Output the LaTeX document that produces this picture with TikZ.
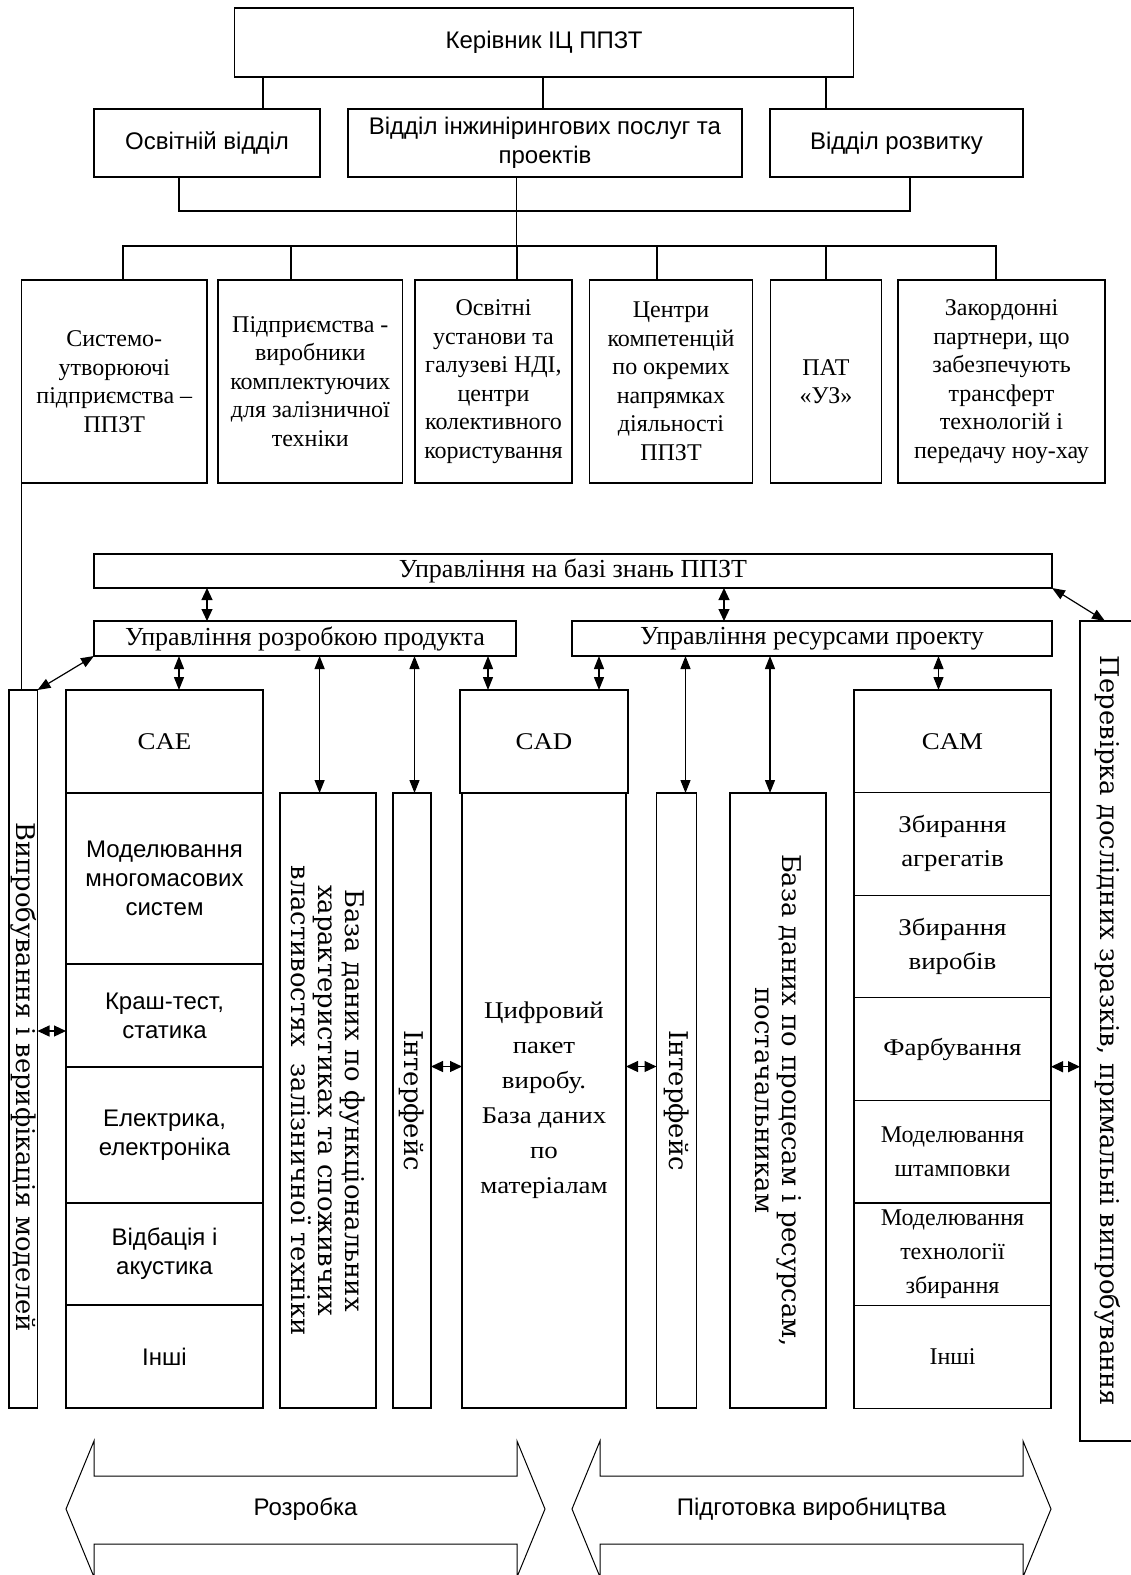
\documentclass[tikz,border=0pt]{standalone}
\usepackage{fontspec}
\setmainfont{Liberation Serif}
\newfontfamily\arialf{Liberation Sans}
\newfontfamily\cambf[FakeStretch=1.12]{Liberation Serif}
\newfontfamily\widef{DejaVu Serif}
\usepackage{tikz}
\usetikzlibrary{arrows.meta}
\usetikzlibrary{calc}
\usetikzlibrary{positioning}
\tikzstyle{block} = [draw, line width=1.2pt,
	inner sep=0pt, outer sep=0pt,
	align=center]
\tikzstyle{sans} = [font=\arialf\fontsize{24}{29}\selectfont]
\tikzstyle{tnr} = [font=\fontsize{24}{28.5}\selectfont]
\tikzstyle{tnrw} = [font=\fontsize{24}{34}\selectfont]
\tikzstyle{bar} = [font=\fontsize{26}{30}\selectfont]
\tikzstyle{camb} = [font=\cambf\fontsize{24}{34}\selectfont]
\tikzstyle{cadtext} = [font=\cambf\fontsize{24}{35}\selectfont]
\tikzstyle{vtext} = [rotate=-90, align=center,
	font=\widef\fontsize{25.8}{27}\selectfont]
\tikzstyle{link} = [line width=1.2pt]
\tikzstyle{arrow} = [{Triangle[length=13pt,width=10pt]}-{Triangle[length=13pt,width=10pt]}, line width=1.2pt]
\tikzstyle{sarrow} = [{Triangle[length=12pt,width=11pt]}-{Triangle[length=12pt,width=11pt]}, line width=1.2pt]
\newcommand{\drawbig}[4]{\draw [line width=1pt]
	(#2,1509) -- ({#2+28},1441) -- ({#2+28},1476) -- ({#3-28},1476)
	-- ({#3-28},1441) -- (#3,1509) -- ({#3-28},1577) -- ({#3-28},1544)
	-- ({#2+28},1544) -- ({#2+28},1577) -- cycle;
	\node [sans] (#1) at ({(#2+#3)/2},1509) {#4}}

\begin{document}
\begin{tikzpicture}[x=1pt, y=-1pt]
	\useasboundingbox (0,0) rectangle (1131,1575);
	
	\node (head) [block, sans, minimum width=619pt, minimum height=69pt] at (544,42.5) {Керівник ІЦ ППЗТ};
	\node (osv) [block, sans, minimum width=226pt, minimum height=68pt] at (207,143) {Освітній відділ};
	\node (inzh) [block, sans, minimum width=394pt, minimum height=68pt] at (545,143) {Відділ інжинірингових послуг та\\проектів};
	\node (rozv) [block, sans, minimum width=253pt, minimum height=68pt] at (896.5,143) {Відділ розвитку};
	
	\draw [link] ([xshift=56pt]osv.north) -- ([xshift=56pt]osv.north |- head.south);
	\draw [link] ([xshift=-2pt]inzh.north) -- ([xshift=-2pt]inzh.north |- head.south);
	\draw [link] ([xshift=-70.5pt]rozv.north) -- ([xshift=-70.5pt]rozv.north |- head.south);
	
	\coordinate (bus1) at (516.5,211);
	\coordinate (bus2) at (516.5,246);
	\draw [link] ([xshift=-28pt]osv.south) |- (bus1) -| ([xshift=13.5pt]rozv.south);
	\draw [link] ([xshift=-28.5pt]inzh.south) -- (bus2);
	
	\node (syst) [block, tnr, minimum width=185.4pt, minimum height=203pt] at (114.3,381.5) {Системо-\\утворюючі\\підприємства –\\ППЗТ};
	\node (vyrob) [block, tnr, minimum width=184.6pt, minimum height=203pt] at (310.3,381.5) {Підприємства -\\виробники\\комплектуючих\\для залізничної\\техніки};
	\node (osvu) [block, tnr, minimum width=157pt, minimum height=203pt] at (493.5,381.5) {Освітні\\установи та\\галузеві НДІ,\\центри\\колективного\\користування};
	\node (centr) [block, tnr, minimum width=162.5pt, minimum height=203pt] at (671,381.5) {Центри\\компетенцій\\по окремих\\напрямках\\діяльності\\ППЗТ};
	\node (pat) [block, tnr, minimum width=111pt, minimum height=203pt] at (826,381.5) {ПАТ\\«УЗ»};
	\node (zak) [block, tnr, minimum width=207pt, minimum height=203pt] at (1001.5,381.5) {Закордонні\\партнери, що\\забезпечують\\трансферт\\технологій і\\передачу ноу-хау};
	
	\foreach \n/\d in {syst/8.7, vyrob/-19.3, osvu/23.5, centr/-14, pat/0, zak/-5.5}
		\draw [link] (bus2) -| ([xshift=\d pt]\n.north);
	
	\node (know) [block, bar, minimum width=958pt, minimum height=34pt] at (573,571) {Управління на базі знань ППЗТ};
	\node (devm) [block, bar, minimum width=422pt, minimum height=35pt] at (305,638.5) {Управління розробкою продукта};
	\node (resm) [block, bar, minimum width=480pt, minimum height=35pt] at (812,638.5) {Управління ресурсами проекту};
	
	\node (vypr) [block, minimum width=28.5pt, minimum height=718pt] at (23.25,1049) {};
	\node (vyprlab) [vtext] at ($(vypr.center)+(0,28)$) {Випробування і верифікація моделей};
	\draw [link] (syst.south west) -- (syst.south west |- vypr.north);
	
	\node (caeh) [block, camb, minimum width=197pt, minimum height=103pt] at (164.5,741.5) {CAE};
	\node (cae1) [block, sans, minimum width=197pt, minimum height=171pt, below=0pt of caeh] {Моделювання\\многомасових\\систем};
	\node (cae2) [block, sans, minimum width=197pt, minimum height=103pt, below=0pt of cae1] {Краш-тест,\\статика};
	\node (cae3) [block, sans, minimum width=197pt, minimum height=136pt, below=0pt of cae2] {Електрика,\\електроніка};
	\node (cae4) [block, sans, minimum width=197pt, minimum height=102pt, below=0pt of cae3] {Відбація і\\акустика};
	\node (cae5) [block, sans, minimum width=197pt, minimum height=103pt, below=0pt of cae4] {Інші};
	
	\node (db1) [block, minimum width=96pt, minimum height=615pt] at (328,1100.5) {};
	\node (db1lab) [vtext] at (db1) {База даних по функціональних\\характеристиках та споживчих\\властивостях~~залізничної техніки};
	\node (int1) [block, minimum width=38pt, minimum height=615pt] at (412,1100.5) {};
	\node (int1lab) [vtext] at (int1) {Інтерфейс};
	
	\node (cadh) [block, camb, minimum width=168pt, minimum height=103pt] at (544,741.5) {CAD};
	\node (cadb) [block, cadtext, minimum width=164pt, minimum height=615pt, below=0pt of cadh] {Цифровий\\пакет\\виробу.\\База даних\\по\\матеріалам};
	
	\node (int2) [block, minimum width=40pt, minimum height=615pt] at (676.5,1100.5) {};
	\node (int2lab) [vtext] at (int2) {Інтерфейс};
	\node (db2) [block, minimum width=96pt, minimum height=615pt] at (778,1100.5) {};
	\node (db2lab) [vtext] at (db2) {База даних по процесам і ресурсам,\\постачальникам};
	
	\node (camh) [block, camb, minimum width=197pt, minimum height=102.6pt] at (952.5,741.3) {CAM};
	\node (cam1) [block, camb, minimum width=197pt, minimum height=102.6pt, below=0pt of camh] {Збирання\\агрегатів};
	\node (cam2) [block, camb, minimum width=197pt, minimum height=102.6pt, below=0pt of cam1] {Збирання\\виробів};
	\node (cam3) [block, camb, minimum width=197pt, minimum height=102.6pt, below=0pt of cam2] {Фарбування};
	\node (cam4) [block, tnrw, minimum width=197pt, minimum height=102.6pt, below=0pt of cam3] {Моделювання\\штамповки};
	\node (cam5) [block, tnrw, minimum width=197pt, minimum height=102.6pt, below=0pt of cam4] {Моделювання\\технології\\збирання};
	\node (cam6) [block, tnrw, minimum width=197pt, minimum height=102.6pt, below=0pt of cam5] {Інші};
	
	\node (verif) [block, minimum width=56pt, minimum height=820pt] at (1108,1031) {};
	\node (veriflab) [vtext] at (verif) {Перевірка дослідних зразків, примальні випробування};
	
	\draw [sarrow] ([xshift=-98pt]devm.north) -- ([xshift=-98pt]devm.north |- know.south);
	\draw [sarrow] ([xshift=-88pt]resm.north) -- ([xshift=-88pt]resm.north |- know.south);
	\draw [arrow] (know.south east) -- ([xshift=-3pt]verif.north);
	\draw [arrow] (devm.south west) -- (vypr.north east);
	\foreach \n/\d/\b in {caeh/14.5/devm, db1/-8.4/devm, int1/2.5/devm, cadh/-56/devm,
		cadh/55/resm, int2/9/resm, db2/-8/resm, camh/-14/resm}
		\draw [arrow] ([xshift=\d pt]\n.north) -- ([xshift=\d pt]\n.north |- \b.south);
	
	\draw [sarrow] ([yshift=18pt]vypr.east) -- ([yshift=18pt]vypr.east -| cae2.west);
	\draw [sarrow] ([yshift=34pt]int1.east) -- ([yshift=34pt]int1.east -| cadb.west);
	\draw [sarrow] ([yshift=34pt]cadb.east) -- ([yshift=34pt]cadb.east -| int2.west);
	\draw [sarrow] ([yshift=-17.6pt]cam3.east) -- ([yshift=-17.6pt]cam3.east -| verif.west);
	
	\drawbig{rozr}{66}{545}{Розробка};
	\drawbig{pidg}{572}{1051}{Підготовка виробництва};
\end{tikzpicture}
\end{document}
